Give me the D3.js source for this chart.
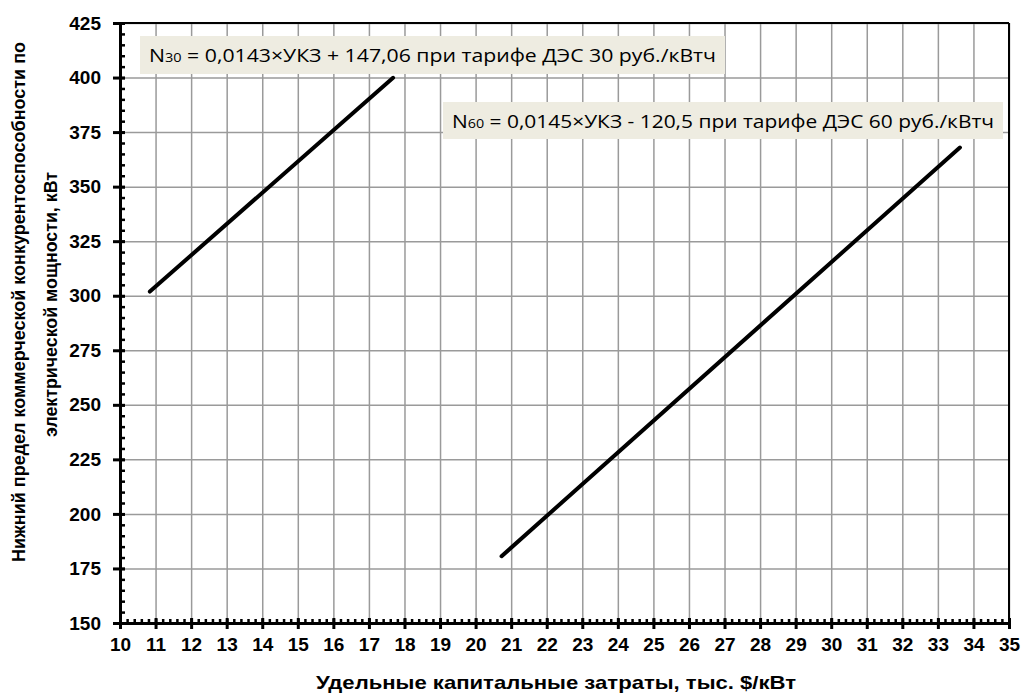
<!DOCTYPE html>
<html>
<head>
<meta charset="utf-8">
<script src="https://cdn.jsdelivr.net/npm/d3@7"></script>
<style>
  body { margin: 0; background: #fff; }
</style>
</head>
<body>
<svg id="chart" width="1022" height="697"></svg>
<script>
// data
const line30 = [[10.84, 301.9], [17.68, 399.9]];
const line60 = [[20.73, 180.6], [33.62, 367.9]];
const xTicks = d3.range(10, 36, 1);
const yTicks = d3.range(150, 426, 25);

const svg = d3.select('#chart');
const margin = { top: 23, right: 13, bottom: 74, left: 120 };
const width = +svg.attr('width');
const height = +svg.attr('height');
const chartWidth = width - margin.left - margin.right;
const chartHeight = height - margin.top - margin.bottom;

const x = d3.scaleLinear().domain([10, 35]).range([0, chartWidth]);
const y = d3.scaleLinear().domain([150, 425]).range([chartHeight, 0]);

const g = svg.append('g').attr('transform', `translate(${margin.left},${margin.top})`);

// grid
g.append('g')
    .call(d3.axisBottom(x).tickValues(xTicks).tickSize(chartHeight).tickFormat(''))
    .call(s => s.select('.domain').remove())
    .selectAll('line').attr('stroke', '#9a9a9a').attr('stroke-width', 1.5);
g.append('g')
    .call(d3.axisRight(y).tickValues(yTicks).tickSize(chartWidth).tickFormat(''))
    .call(s => s.select('.domain').remove())
    .selectAll('line').attr('stroke', '#9a9a9a').attr('stroke-width', 1.5);

// frame top/right
g.append('line').attr('x1', 0).attr('x2', chartWidth).attr('y1', 0).attr('y2', 0)
    .attr('stroke', '#000').attr('stroke-width', 2);
g.append('line').attr('x1', chartWidth).attr('x2', chartWidth).attr('y1', 0).attr('y2', chartHeight)
    .attr('stroke', '#000').attr('stroke-width', 2);

// lines
const lineGen = d3.line().x(d => x(d[0])).y(d => y(d[1]));
[line30, line60].forEach(d => {
    g.append('path').datum(d).attr('d', lineGen)
        .attr('fill', 'none').attr('stroke', '#000').attr('stroke-width', 4)
        .attr('stroke-linecap', 'round');
});

// minor ticks
g.append('g')
    .call(d3.axisTop(x).tickValues(d3.range(10, 35.01, 0.2)).tickSize(4).tickFormat(''))
    .attr('transform', `translate(0,${chartHeight})`)
    .call(s => s.select('.domain').remove())
    .selectAll('line').attr('stroke', '#000').attr('stroke-width', 2.5);
g.append('g')
    .call(d3.axisRight(y).tickValues(d3.range(150, 425.01, 5)).tickSize(5).tickFormat(''))
    .call(s => s.select('.domain').remove())
    .selectAll('line').attr('stroke', '#000').attr('stroke-width', 2.5);

// axes
const xAxis = g.append('g')
    .attr('transform', `translate(0,${chartHeight})`)
    .call(d3.axisBottom(x).tickValues(xTicks).tickSize(6).tickSizeOuter(0).tickPadding(9))
    .attr('font-size', null).attr('font-family', null);
xAxis.select('.domain').attr('stroke', '#000').attr('stroke-width', 3);
xAxis.selectAll('.tick line').attr('stroke', '#000').attr('stroke-width', 3).attr('y1', -5);
xAxis.selectAll('.tick text')
    .style('font-family', '"Liberation Sans", Arial, sans-serif')
    .style('font-weight', 'bold').style('font-size', '19px').attr('fill', '#000');

const yAxis = g.append('g')
    .call(d3.axisLeft(y).tickValues(yTicks).tickSize(7).tickSizeOuter(0).tickPadding(12))
    .attr('font-size', null).attr('font-family', null);
yAxis.select('.domain').attr('stroke', '#000').attr('stroke-width', 3);
yAxis.selectAll('.tick line').attr('stroke', '#000').attr('stroke-width', 3).attr('x1', 5);
yAxis.selectAll('.tick text')
    .style('font-family', '"Liberation Sans", Arial, sans-serif')
    .style('font-weight', 'bold').style('font-size', '19px').attr('fill', '#000');

// axis titles
svg.append('text')
    .attr('x', 556)
    .attr('y', 689)
    .attr('text-anchor', 'middle')
    .attr('font-family', '"Liberation Sans", Arial, sans-serif')
    .attr('font-weight', 'bold').attr('font-size', 19)
    .attr('textLength', 480).attr('lengthAdjust', 'spacingAndGlyphs')
    .text('Удельные капитальные затраты, тыс. $/кВт');

const yTitle = svg.append('g')
    .attr('transform', `translate(0,302) rotate(-90)`)
    .attr('font-family', '"Liberation Sans", Arial, sans-serif')
    .attr('font-weight', 'bold').attr('font-size', 18);
yTitle.append('text').attr('x', -260).attr('y', 25)
    .attr('textLength', 520).attr('lengthAdjust', 'spacingAndGlyphs')
    .text('Нижний предел коммерческой конкурентоспособности по');
yTitle.append('text').attr('x', -135).attr('y', 57)
    .attr('textLength', 265).attr('lengthAdjust', 'spacingAndGlyphs')
    .text('электрической мощности, кВт');

// annotations
function label(bx, by, bw, bh, sub, rest) {
    svg.append('rect').attr('x', bx).attr('y', by).attr('width', bw).attr('height', bh)
        .attr('fill', '#eeece1');
    const t = svg.append('text')
        .attr('x', bx + 9).attr('y', by + bh / 2 + 7)
        .attr('font-family', '"Open Sans", Lato, sans-serif')
        .attr('font-size', 19).attr('fill', '#000')
        .attr('textLength', bw - 18).attr('lengthAdjust', 'spacingAndGlyphs');
    t.append('tspan').text('N');
    t.append('tspan').attr('font-size', 13).text(sub);
    t.append('tspan').text(rest);
}
label(140, 36, 585, 38, '30', ' = 0,0143×УКЗ + 147,06 при тарифе ДЭС 30 руб./кВтч');
label(443, 102, 560, 37, '60', ' = 0,0145×УКЗ - 120,5 при тарифе ДЭС 60 руб./кВтч');
</script>
</body>
</html>
